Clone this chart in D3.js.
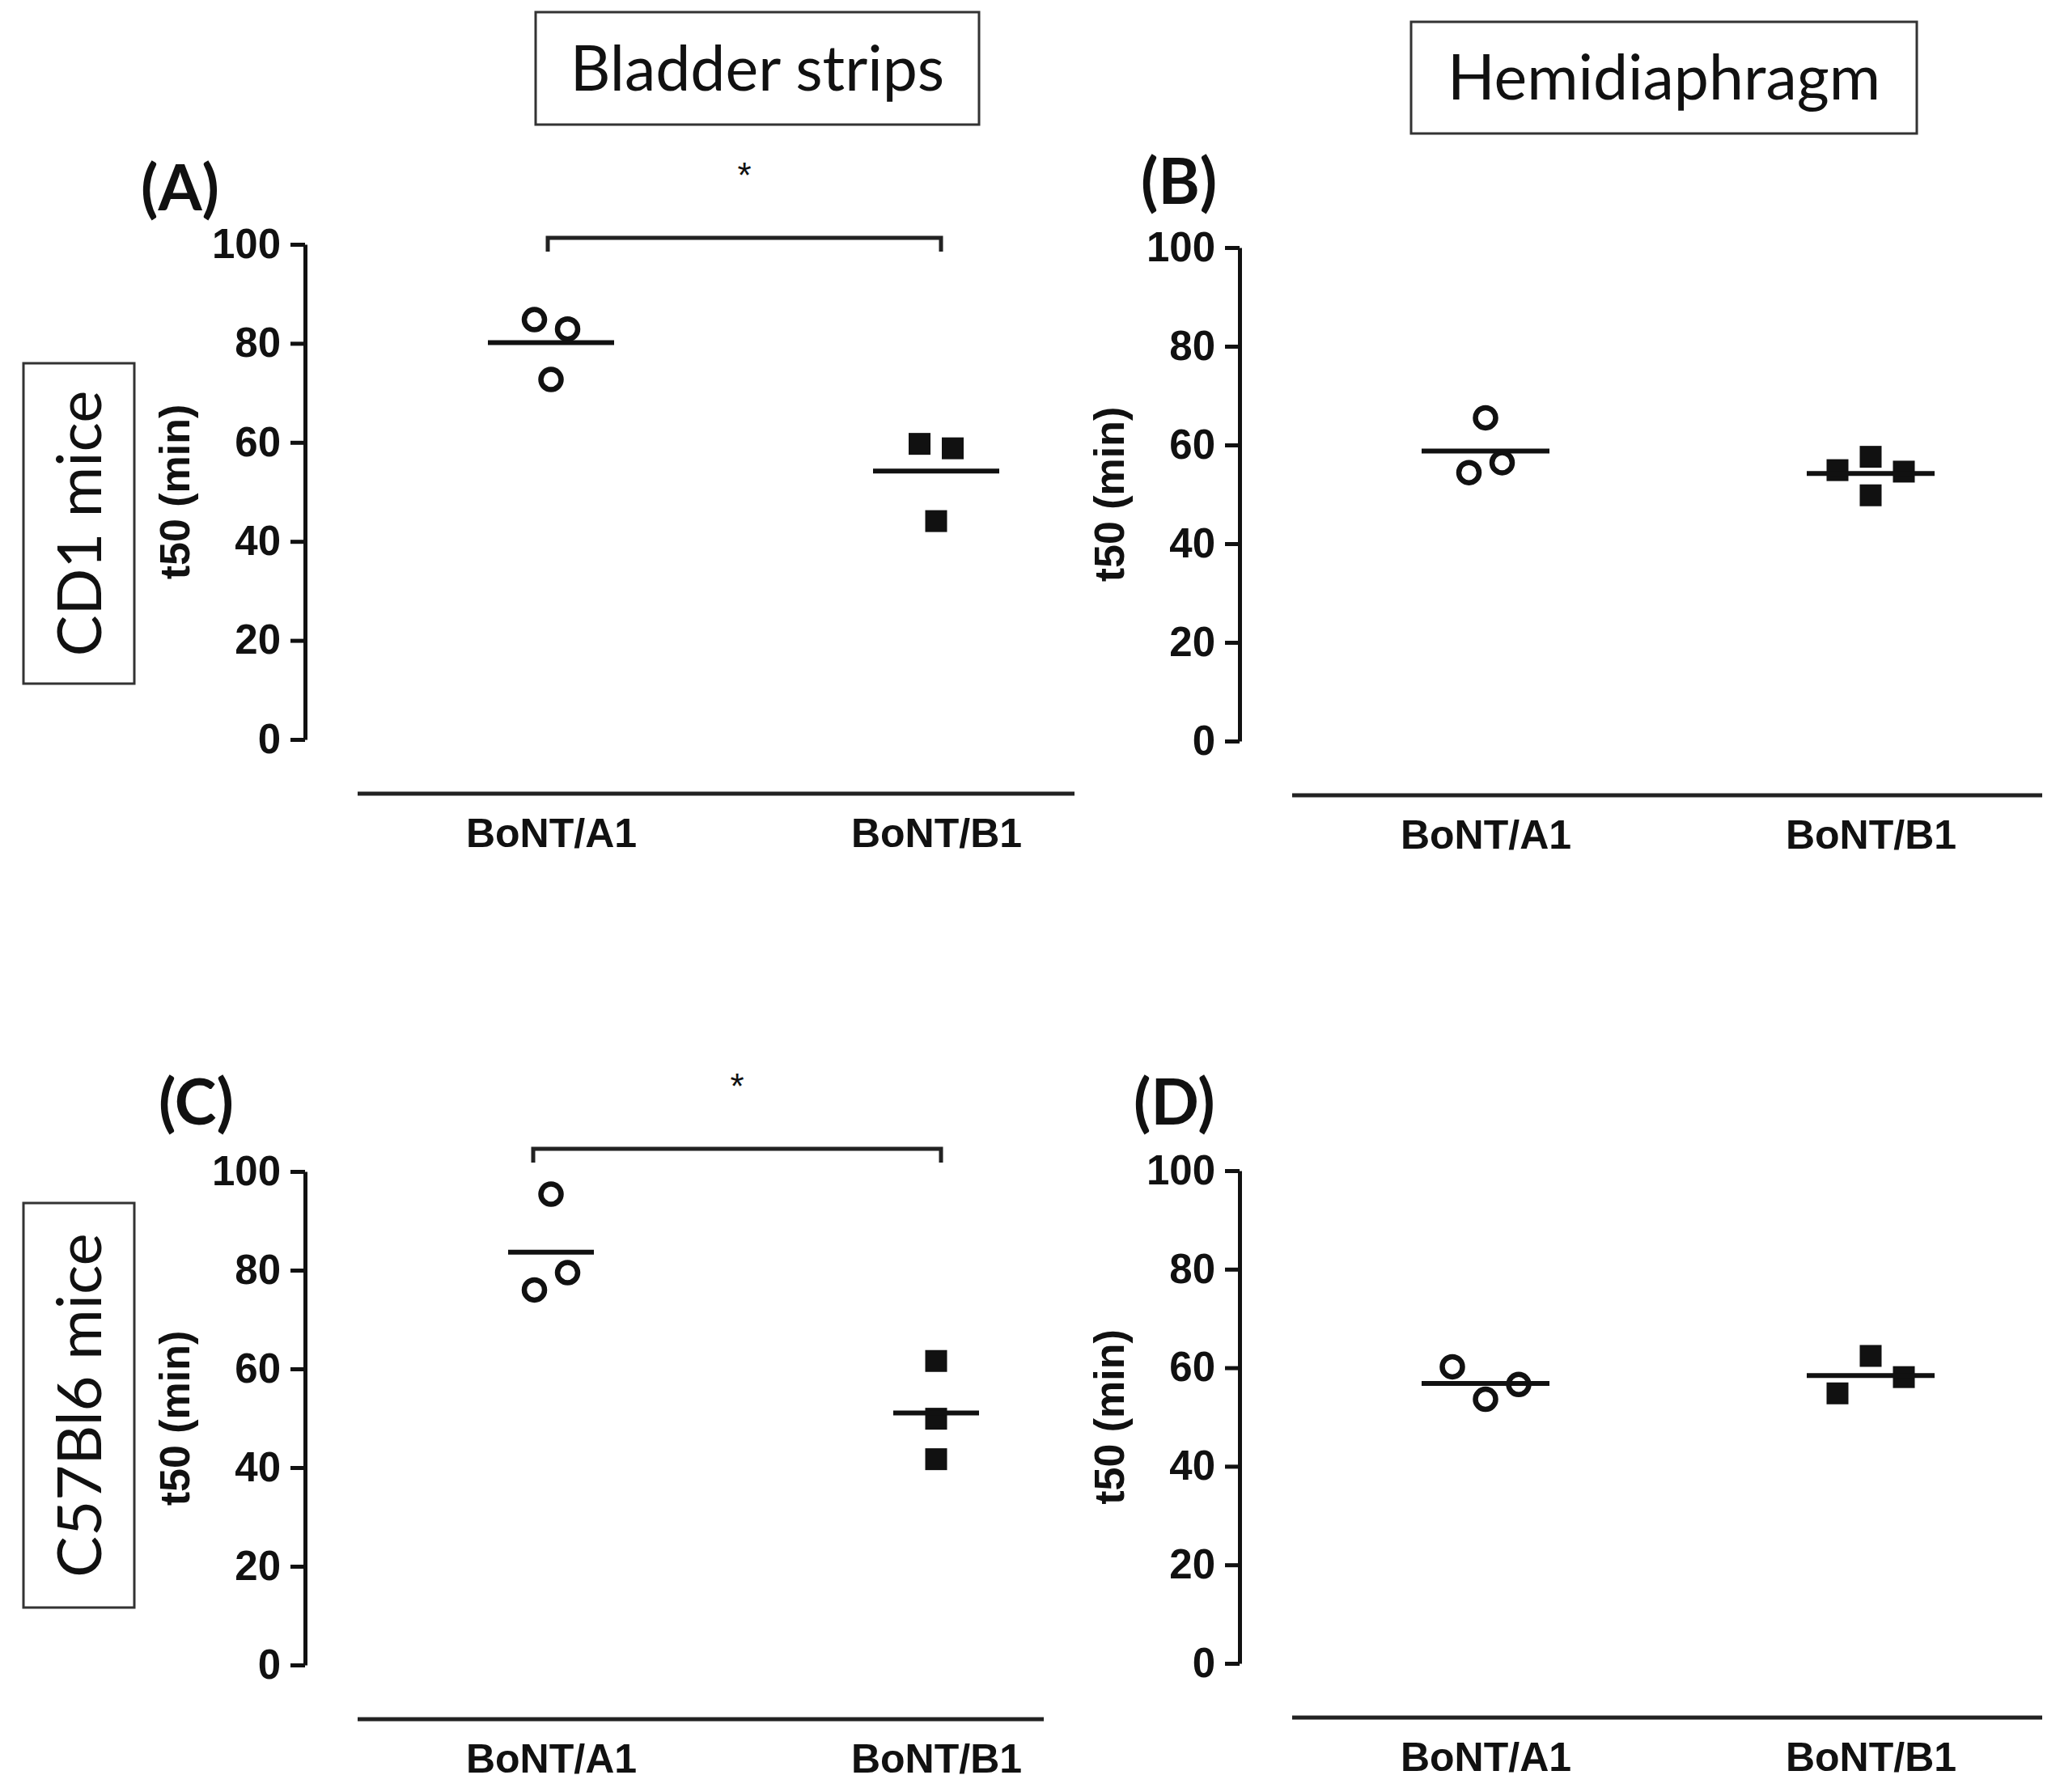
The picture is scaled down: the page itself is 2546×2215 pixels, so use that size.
<!DOCTYPE html>
<html>
<head>
<meta charset="utf-8">
<script src="https://cdn.jsdelivr.net/npm/d3@7"></script>
<style>
  body { margin: 0; background: #fff; }
  svg { display: block; }
</style>
</head>
<body>
<div id="chart"></div>
<script>
// DATA
const categories = ["BoNT/A1", "BoNT/B1"];
const yTicks = [0, 20, 40, 60, 80, 100];
const columnTitles = ["Bladder strips", "Hemidiaphragm"];
const rowTitles = ["CD1 mice", "C57Bl6 mice"];
const panelLetters = ["(A)", "(B)", "(C)", "(D)"];

// t50 (min) per preparation
const cd1BladderA1 = [84.8, 82.9, 72.7];
const cd1BladderB1 = [59.7, 58.8, 44.1];
const cd1DiaphA1 = [65.5, 54.4, 56.4];
const cd1DiaphB1 = [57.6, 54.9, 54.6, 49.8];
const c57BladderA1 = [95.4, 76.0, 79.5];
const c57BladderB1 = [61.6, 49.9, 41.7];
const c57DiaphA1 = [53.6, 60.2, 56.6];
const c57DiaphB1 = [62.4, 54.8, 58.1];

// significance brackets (panel index, bracket height in t50 units, label)
const sigPanels = [0, 2];
const sigLevels = [101.3, 104.6];
const sigLabels = ["*", "*"];

// LAYOUT
const W = 2546, H = 2215;
const panels = [
    { values: [cd1BladderA1, cd1BladderB1], ax: 377, yTop: 302, yBot: 914, lineEnd: 1328, meanW: 156, lx: 174, ly: 260, brPad: 4 },
    { values: [cd1DiaphA1, cd1DiaphB1], ax: 1532, yTop: 306, yBot: 916, lineEnd: 2524, meanW: 158, lx: 1410, ly: 252, brPad: 0 },
    { values: [c57BladderA1, c57BladderB1], ax: 377, yTop: 1448, yBot: 2058, lineEnd: 1290, meanW: 106, lx: 196, ly: 1390, brPad: 22 },
    { values: [c57DiaphA1, c57DiaphB1], ax: 1532, yTop: 1447, yBot: 2056, lineEnd: 2524, meanW: 158, lx: 1401, ly: 1390, brPad: 0 }
];
const symSize = 27;     // px
const slotGap = 41;     // px between side by side points
const ink = "#111";
const boxFont = "Lato, 'Open Sans', sans-serif";
const axisFont = "'Liberation Sans', Arial, sans-serif";

const svg = d3.select("#chart")
    .append("svg")
    .attr("width", W)
    .attr("height", H)
    .style("background", "#fff");

// Spread points that sit at nearly the same height side by side (GraphPad style)
function spread(vals, ys) {
    const idx = vals.map((v, i) => i).sort((a, b) => vals[b] - vals[a]);
    const rows = [];
    idx.forEach(i => {
        const row = rows[rows.length - 1];
        if (row && Math.abs(ys(vals[row[row.length - 1]]) - ys(vals[i])) < symSize) row.push(i);
        else rows.push([i]);
    });
    const off = new Array(vals.length).fill(0);
    rows.forEach(row => {
        row.sort((a, b) => a - b);
        const n = row.length;
        let slots;
        if (n % 2 === 1) {
            slots = [0];
            for (let k = 1; slots.length < n; k++) slots.push(-k, k);
        } else {
            slots = [];
            for (let k = 0.5; slots.length < n; k++) slots.push(-k, k);
        }
        row.forEach((i, j) => off[i] = slots[j] * slotGap);
    });
    return off;
}

panels.forEach((p, pi) => {
    const g = svg.append("g");

    const ys = d3.scaleLinear().domain([0, 100]).range([p.yBot, p.yTop]);
    const xs = d3.scalePoint().domain(categories).range([p.ax + 304, p.ax + 780]);

    // y axis
    const yAxis = g.append("g")
        .attr("transform", `translate(${p.ax},0)`)
        .call(d3.axisLeft(ys).tickValues(yTicks).tickSize(18).tickSizeOuter(0).tickPadding(12));
    yAxis.select(".domain").attr("stroke", ink).attr("stroke-width", 5);
    yAxis.selectAll(".tick line").attr("stroke", ink).attr("stroke-width", 5);
    yAxis.selectAll(".tick text")
        .attr("fill", ink)
        .style("font-family", axisFont)
        .style("font-weight", "bold")
        .style("font-size", "51px");

    // y label
    g.append("text")
        .attr("transform", `translate(${p.ax - 143},${(p.yTop + p.yBot) / 2}) rotate(-90)`)
        .attr("text-anchor", "middle")
        .style("font-family", axisFont)
        .style("font-weight", "bold")
        .style("font-size", "52px")
        .attr("fill", ink)
        .text("t50 (min)");

    // x axis: detached base line + category labels
    const base = p.yBot + 67;
    g.append("line")
        .attr("x1", p.ax + 65).attr("x2", p.lineEnd)
        .attr("y1", base).attr("y2", base)
        .attr("stroke", "#222").attr("stroke-width", 5);
    const xAxis = g.append("g")
        .attr("transform", `translate(0,${base})`)
        .call(d3.axisBottom(xs).tickSize(0).tickPadding(30));
    xAxis.select(".domain").remove();
    xAxis.selectAll(".tick text")
        .attr("fill", ink)
        .style("font-family", axisFont)
        .style("font-weight", "bold")
        .style("font-size", "50px");

    // panel letter
    g.append("text")
        .attr("x", p.lx).attr("y", p.ly)
        .style("font-family", boxFont)
        .style("font-weight", "bold")
        .style("font-size", "78px")
        .attr("fill", ink)
        .text(panelLetters[pi]);

    // points + mean lines
    p.values.forEach((vals, ci) => {
        const cx = xs(categories[ci]);
        const off = spread(vals, ys);
        const filled = ci === 1;
        const sym = d3.symbol()
            .type(filled ? d3.symbolSquare : d3.symbolCircle)
            .size(filled ? symSize * symSize : Math.PI * 12.5 * 12.5);

        g.append("g").selectAll("path")
            .data(vals)
            .enter()
            .append("path")
            .attr("d", sym)
            .attr("transform", (d, i) => `translate(${cx + off[i]},${ys(d)})`)
            .attr("fill", filled ? ink : "none")
            .attr("stroke", filled ? "none" : ink)
            .attr("stroke-width", 6.5);

        const m = d3.mean(vals);
        g.append("line")
            .attr("x1", cx - p.meanW / 2).attr("x2", cx + p.meanW / 2)
            .attr("y1", ys(m)).attr("y2", ys(m))
            .attr("stroke", ink).attr("stroke-width", 6);
    });

    // significance bracket
    const si = sigPanels.indexOf(pi);
    if (si >= 0) {
        const by = ys(sigLevels[si]);
        const x1 = xs(categories[0]) - p.brPad, x2 = xs(categories[1]) + 6;
        g.append("path")
            .attr("d", `M${x1},${by + 17}V${by}H${x2}V${by + 17}`)
            .attr("fill", "none")
            .attr("stroke", "#222")
            .attr("stroke-width", 5);
        g.append("text")
            .attr("x", (x1 + x2) / 2)
            .attr("y", by - 62)
            .attr("text-anchor", "middle")
            .style("font-family", axisFont)
            .style("font-size", "44px")
            .attr("fill", ink)
            .text(sigLabels[si]);
    }
});

// COLUMN / ROW TITLE BOXES
const colBoxes = [{ x: 662, y: 15, w: 548, h: 139 }, { x: 1744, y: 27, w: 625, h: 138 }];
colBoxes.forEach((b, i) => {
    svg.append("rect")
        .attr("x", b.x).attr("y", b.y).attr("width", b.w).attr("height", b.h)
        .attr("fill", "#fff").attr("stroke", "#333").attr("stroke-width", 3);
    svg.append("text")
        .attr("x", b.x + b.w / 2).attr("y", b.y + b.h / 2 + 27)
        .attr("text-anchor", "middle")
        .style("font-family", boxFont)
        .style("font-size", "77px")
        .attr("fill", ink)
        .text(columnTitles[i]);
});

const rowBoxes = [{ x: 29, y: 449, w: 137, h: 396 }, { x: 29, y: 1487, w: 137, h: 500 }];
rowBoxes.forEach((b, i) => {
    svg.append("rect")
        .attr("x", b.x).attr("y", b.y).attr("width", b.w).attr("height", b.h)
        .attr("fill", "#fff").attr("stroke", "#333").attr("stroke-width", 3);
    svg.append("text")
        .attr("transform", `translate(${b.x + b.w / 2 + 27},${b.y + b.h / 2}) rotate(-90)`)
        .attr("text-anchor", "middle")
        .style("font-family", boxFont)
        .style("font-size", "76px")
        .attr("fill", ink)
        .text(rowTitles[i]);
});
</script>
</body>
</html>
